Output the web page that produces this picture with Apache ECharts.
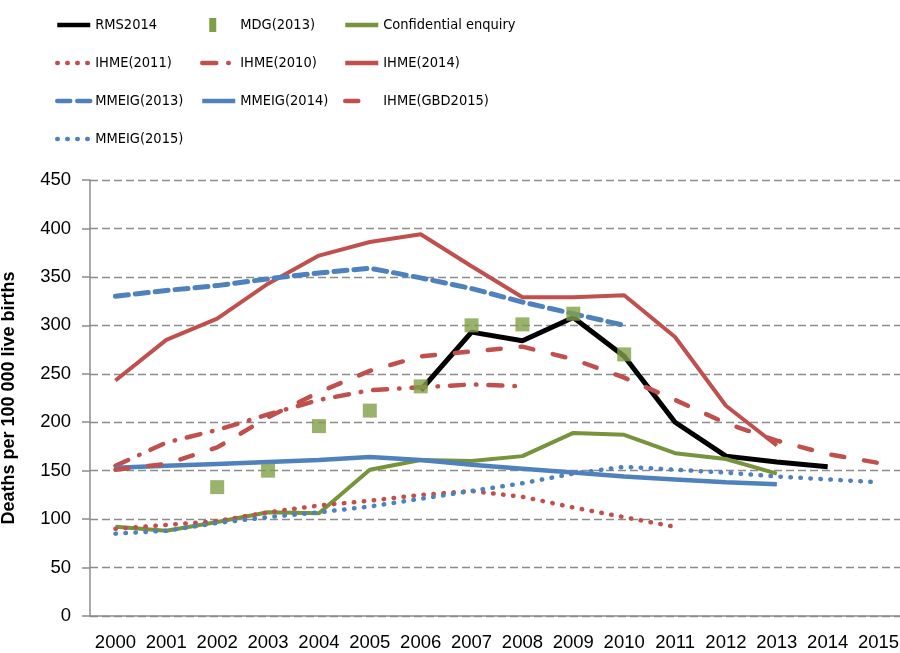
<!DOCTYPE html>
<html>
<head>
<meta charset="utf-8">
<script src="https://cdn.jsdelivr.net/npm/echarts@6.0.0/dist/echarts.min.js"></script>
<style>
  html, body { margin: 0; padding: 0; background: #fff; }
  #main { width: 900px; height: 653px; }
</style>
</head>
<body>
<div id="main"></div>
<script>
var years = ["2000", "2001", "2002", "2003", "2004", "2005", "2006", "2007",
  "2008", "2009", "2010", "2011", "2012", "2013", "2014", "2015"];

// values, deaths per 100 000 live births
var rms2014 = [null, null, null, null, null, null, 233, 293, 284, 308, 268, 200, 165, 159, 154, null];
var mdg2013 = [null, null, 133, 150, 196, 212, 237, 300, 301, 312, 270, null, null, null, null, null];
var confEnquiry = [92, 88, 97, 107, 106, 151, 161, 160, 165, 189, 187, 168, 162, 147, null, null];
var ihme2011 = [90, 94, 98, 107, 114, 119, 125, 129, 123, 112, 102, 92, null, null, null, null];
var ihme2010 = [155, 179, 192, 208, 223, 233, 236, 239, 237, null, null, null, null, null, null, null];
var ihme2014 = [243, 285, 307, 343, 372, 386, 394, 361, 329, 329, 331, 288, 217, 176, null, null];
var mmeig2013 = [330, 336, 341, 348, 354, 359, 349, 338, 324, 312, 300, null, null, null, null, null];
var mmeig2014 = [153, 155, 157, 159, 161, 164, 161, 156, 152, 148, 144, 141, 138, 136, null, null];
var ihmeGbd2015 = [151, 157, 174, 205, 231, 253, 268, 273, 278, 265, 246, 223, 199, 181, 167, 158];
var mmeig2015 = [85, 88, 96, 102, 107, 113, 121, 129, 137, 147, 154, 151, 148, 144, 141, 138];

var RED = "#C0504D", BLUE = "#4F81BD", GREEN = "#77933C", SQUARE = "#80A047";
var FONT = "'Liberation Sans', Arial, sans-serif";
var NARROW = "'Liberation Sans Narrow', 'DejaVu Sans Condensed', 'Liberation Sans', sans-serif";

function line(name, data, color, width, type, cap) {
  return {
    name: name,
    type: "line",
    data: data,
    symbol: "none",
    connectNulls: false,
    lineStyle: { color: color, width: width, type: type || "solid", cap: cap || "butt" },
    itemStyle: { color: color }
  };
}

var chart = echarts.init(document.getElementById("main"));

// one legend per column, so the columns line up like the original
function legendCol(left, names) {
  return {
    orient: "vertical",
    left: left,
    top: 12,
    itemWidth: 33,
    itemHeight: 14,
    itemGap: 22,
    data: names,
    itemStyle: { opacity: 0 }, // hide the circle ECharts puts on line icons
    lineStyle: { width: 4.5 },
    textStyle: { color: "#000", fontSize: 14.5, lineHeight: 16, fontFamily: NARROW }
  };
}

var option = {
  animation: false,
  legend: [
    legendCol(50, ["RMS2014", "IHME(2011)", "MMEIG(2013)", "MMEIG(2015)"]),
    legendCol(195, [
      { name: "MDG(2013)", icon: "path://M0,0 M33,14 M7,0 L14,0 L14,14 L7,14 Z", itemStyle: { opacity: 1 } },
      "IHME(2010)", "MMEIG(2014)"]),
    legendCol(338, ["Confidential enquiry", "IHME(2014)", "IHME(GBD2015)"])
  ],
  grid: { left: 90, right: -4, top: 180, bottom: 37, outerBoundsMode: "none" },
  xAxis: {
    type: "category",
    data: years,
    boundaryGap: true,
    axisLine: { lineStyle: { color: "#8c8c8c", width: 1.5 } },
    axisTick: { length: 8, lineStyle: { color: "#8c8c8c", width: 1.5 } },
    axisLabel: { color: "#000", fontSize: 18.5, fontFamily: FONT, margin: 17, interval: 0 }
  },
  yAxis: {
    type: "value",
    min: 0,
    max: 450,
    interval: 50,
    name: "Deaths per 100 000 live births",
    nameLocation: "middle",
    nameRotate: 90,
    nameGap: 72,
    nameTextStyle: { color: "#000", fontSize: 18, fontWeight: "bold", fontFamily: FONT },
    axisLine: { show: true, lineStyle: { color: "#8c8c8c", width: 1.5 } },
    axisTick: { show: true, length: 8, lineStyle: { color: "#8c8c8c", width: 1.5 } },
    axisLabel: { color: "#000", fontSize: 18.5, fontFamily: FONT, margin: 19 },
    splitLine: { lineStyle: { color: "#8c8c8c", width: 1.4, type: [8, 4] } }
  },
  series: [
    line("RMS2014", rms2014, "#000", 5),
    {
      name: "MDG(2013)",
      type: "scatter",
      data: mdg2013,
      symbol: "rect",
      symbolSize: 14,
      z: 5,
      itemStyle: { color: SQUARE }
    },
    line("Confidential enquiry", confEnquiry, GREEN, 4),
    line("IHME(2011)", ihme2011, RED, 4.5, [0.5, 9.5], "round"),
    line("IHME(2010)", ihme2010, RED, 4.5, [14, 12, 0.5, 12], "round"),
    line("IHME(2014)", ihme2014, RED, 4),
    line("MMEIG(2013)", mmeig2013, BLUE, 5, [13, 7], "round"),
    line("MMEIG(2014)", mmeig2014, BLUE, 4.5),
    line("IHME(GBD2015)", ihmeGbd2015, RED, 4.5, [13, 20], "round"),
    line("MMEIG(2015)", mmeig2015, BLUE, 4.5, [0.5, 9.5], "round")
  ]
};

chart.setOption(option);
</script>
</body>
</html>
